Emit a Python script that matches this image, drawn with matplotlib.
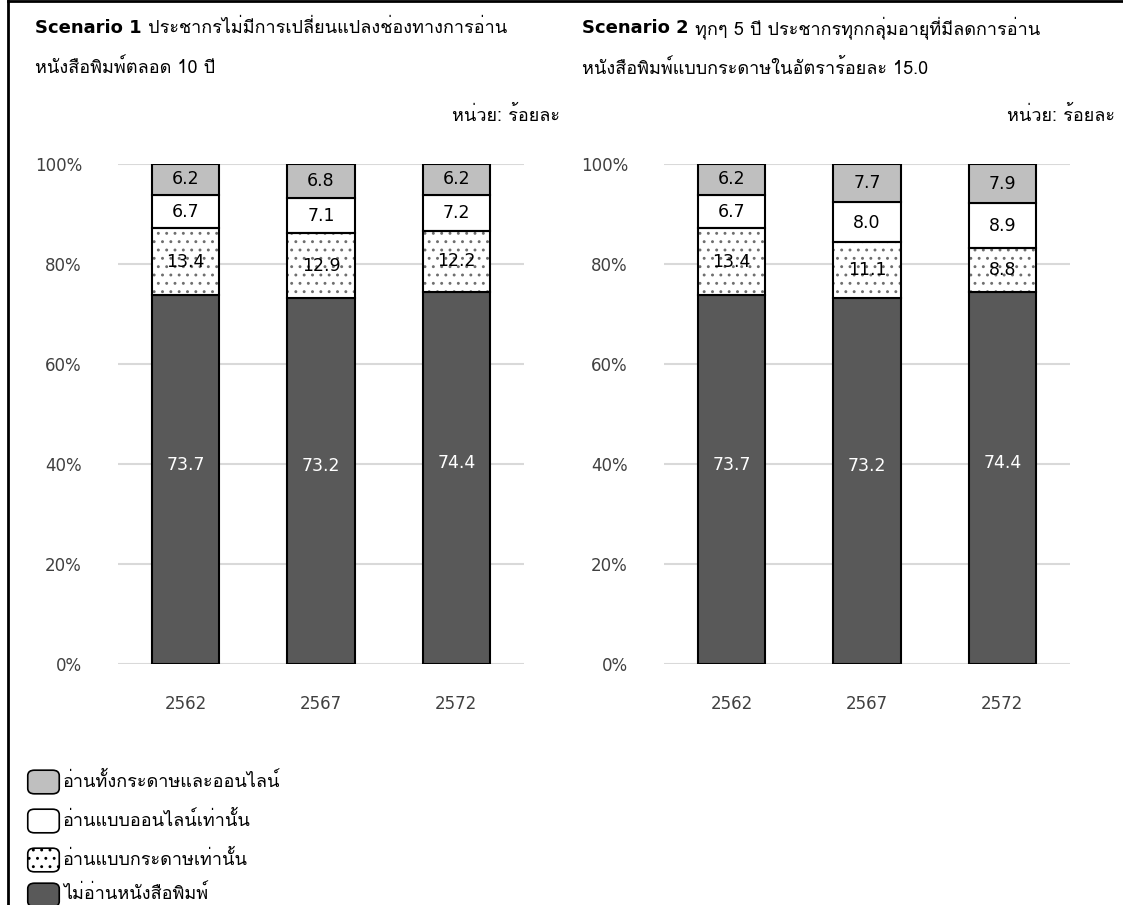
import matplotlib
matplotlib.use("Agg")
import matplotlib.pyplot as plt
from matplotlib import font_manager
from matplotlib.patches import FancyBboxPatch
from matplotlib.lines import Line2D
import numpy as np

years = ["2562", "2567", "2572"]
legend_labels = ["อ่านทั้งกระดาษและออนไลน์", "อ่านแบบออนไลน์เท่านั้น",
                 "อ่านแบบกระดาษเท่านั้น", "ไม่อ่านหนังสือพิมพ์"]

# scenario 1: no change in reading channel
s1_none = [73.7, 73.2, 74.4]
s1_paper = [13.4, 12.9, 12.2]
s1_online = [6.7, 7.1, 7.2]
s1_both = [6.2, 6.8, 6.2]

# scenario 2: paper readers drop 15% every 5 years
s2_none = [73.7, 73.2, 74.4]
s2_paper = [13.4, 11.1, 8.8]
s2_online = [6.7, 8.0, 8.9]
s2_both = [6.2, 7.7, 7.9]

titles = [("Scenario 1", " ประชากรไม่มีการเปลี่ยนแปลงช่องทางการอ่าน", "หนังสือพิมพ์ตลอด 10 ปี"),
          ("Scenario 2", " ทุกๆ 5 ปี ประชากรทุกกลุ่มอายุที่มีลดการอ่าน", "หนังสือพิมพ์แบบกระดาษในอัตราร้อยละ 15.0")]
unit_text = "หน่วย: ร้อยละ"

DARK = "#595959"
LIGHT = "#bfbfbf"
HATCH_GREY = "#6e6e6e"
HATCH = ".."


def find_thai_font():
    try:
        from fontTools.ttLib import TTFont
    except ImportError:
        return None
    for f in font_manager.fontManager.ttflist:
        try:
            font = TTFont(f.fname, fontNumber=0, lazy=True)
            cmap = font.getBestCmap()
            if cmap and 0x0E01 in cmap:
                return f.name
        except Exception:
            continue
    return None


thai = find_thai_font()
fams = ([thai] if thai else []) + ["DejaVu Sans"]
plt.rcParams["font.family"] = fams
plt.rcParams["hatch.linewidth"] = 0.9

W, H = 1123, 905
fig = plt.figure(figsize=(W / 100, H / 100), dpi=100)


def fx(px):
    return px / W


def fy(py):
    return 1 - py / H


def draw_panel(ax, none, paper, online, both):
    x = np.arange(len(years))
    w = 0.5
    none, paper, online, both = map(np.array, (none, paper, online, both))
    b1 = none
    b2 = none + paper
    b3 = b2 + online
    ax.bar(x, none, w, color=DARK, edgecolor="black", lw=1.5, zorder=3)
    ax.bar(x, paper, w, bottom=b1, color="white", edgecolor=HATCH_GREY,
           hatch=HATCH, lw=0, zorder=3)
    ax.bar(x, paper, w, bottom=b1, fill=False, edgecolor="black", lw=1.5, zorder=4)
    ax.bar(x, online, w, bottom=b2, color="white", edgecolor="black", lw=1.5, zorder=3)
    ax.bar(x, both, w, bottom=b3, color=LIGHT, edgecolor="black", lw=1.5, zorder=3)

    for i in range(len(years)):
        ax.text(x[i], none[i] / 2 + 3, f"{none[i]:.1f}", ha="center", va="center",
                color="white", fontsize=12.5, family="DejaVu Sans", zorder=5)
        ax.text(x[i], b1[i] + paper[i] / 2, f"{paper[i]:.1f}", ha="center", va="center",
                color="black", fontsize=12.5, family="DejaVu Sans", zorder=5)
        ax.text(x[i], b2[i] + online[i] / 2, f"{online[i]:.1f}", ha="center", va="center",
                color="black", fontsize=12.5, family="DejaVu Sans", zorder=5)
        ax.text(x[i], b3[i] + both[i] / 2, f"{both[i]:.1f}", ha="center", va="center",
                color="black", fontsize=12.5, family="DejaVu Sans", zorder=5)

    ax.set_xlim(-0.5, 2.5)
    ax.set_ylim(0, 100)
    ax.set_xticks(x)
    ax.set_xticklabels(years, family="DejaVu Sans", fontsize=12, color="#404040")
    ax.set_yticks(range(0, 101, 20))
    ax.set_yticklabels([f"{v}%" for v in range(0, 101, 20)], family="DejaVu Sans",
                       fontsize=12, color="#404040")
    ax.tick_params(axis="both", length=0)
    ax.tick_params(axis="y", pad=26)
    ax.tick_params(axis="x", pad=22)
    for s in ax.spines.values():
        s.set_visible(False)
    ax.grid(axis="y", color="#d9d9d9", lw=1.5, zorder=0)
    ax.set_axisbelow(True)


ax1 = fig.add_axes([fx(118), fy(664), fx(406), 500 / H])
ax2 = fig.add_axes([fx(664), fy(664), fx(406), 500 / H])
draw_panel(ax1, s1_none, s1_paper, s1_online, s1_both)
draw_panel(ax2, s2_none, s2_paper, s2_online, s2_both)

# headings: bold scenario name followed by thai description
fig.canvas.draw()
renderer = fig.canvas.get_renderer()
for (bold, rest, line2), x0, xr in zip(titles, [35, 582], [560, 1115]):
    t = fig.text(fx(x0), fy(28), bold, fontsize=13, fontweight="bold",
                 family="DejaVu Sans", va="center", ha="left")
    bb = t.get_window_extent(renderer)
    fig.text(bb.x1 / W, fy(28), rest, fontsize=13, va="center", ha="left")
    fig.text(fx(x0), fy(68), line2, fontsize=13, va="center", ha="left")
    fig.text(fx(xr), fy(115), unit_text, fontsize=13, va="center", ha="right")

# legend drawn with rounded swatches
legend_y = [782, 821, 860, 895]
styles = [dict(facecolor=LIGHT), dict(facecolor="white"),
          dict(facecolor="white", hatch=".."), dict(facecolor=DARK)]
for lab, yy, st in zip(legend_labels, legend_y, styles):
    p = FancyBboxPatch((fx(30), fy(yy + 10)), fx(27), 20 / H,
                       boxstyle="round,pad=0.002,rounding_size=0.006",
                       transform=fig.transFigure, edgecolor="black", lw=1.2, **st)
    fig.patches.append(p)
    fig.text(fx(63), fy(yy - 1), lab, fontsize=13, va="center", ha="left")

# frame lines along the top and left edges
fig.add_artist(Line2D([fx(8), fx(8)], [0, fy(1)], color="black", lw=2,
                      transform=fig.transFigure))
fig.add_artist(Line2D([fx(8), 1], [fy(1), fy(1)], color="black", lw=2,
                      transform=fig.transFigure))

fig.savefig("out.png", dpi=100, facecolor="white")
